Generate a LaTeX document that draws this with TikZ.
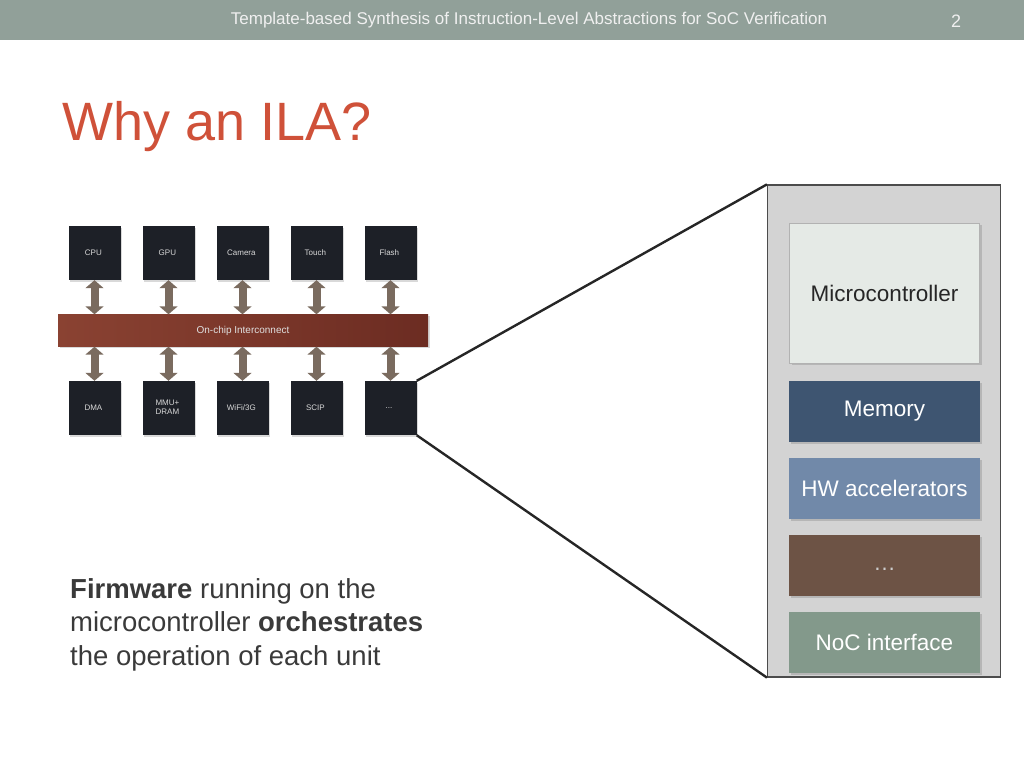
\documentclass[tikz,border=0pt]{standalone}
\usepackage{fontspec}
\setmainfont{Liberation Sans}
\usepackage{tikz}
\usepackage{xcolor}
\usetikzlibrary{matrix,shadows,arrows.meta}

\definecolor{headgray}{HTML}{91A099}
\definecolor{titlered}{HTML}{CF5139}
\definecolor{chipdark}{HTML}{1D2027}
\definecolor{busleft}{HTML}{8A4232}
\definecolor{busright}{HTML}{6C2C22}
\definecolor{arrowbrown}{HTML}{7A6B5F}
\definecolor{panelgray}{HTML}{D3D3D3}
\definecolor{mcgray}{HTML}{E5EAE6}
\definecolor{memblue}{HTML}{3E5571}
\definecolor{hwblue}{HTML}{7189A9}
\definecolor{dotbrown}{HTML}{6D5345}
\definecolor{nocgreen}{HTML}{83998B}
\definecolor{bodygray}{HTML}{3A3A3A}

\tikzset{
  chip/.style={fill=chipdark, text=white!85!black, minimum width=52pt, minimum height=54pt,
    inner sep=1pt, align=center, anchor=center, font=\fontsize{8}{9.5}\selectfont,
    drop shadow={opacity=0.3, shadow xshift=1.5pt, shadow yshift=-1.5pt}},
  busarrow/.style={arrowbrown, line width=8pt,
    {Triangle[width=18pt,length=8pt]}-{Triangle[width=18pt,length=8pt]}},
  unit/.style={minimum width=191pt, minimum height=61pt, inner sep=0pt, text=white,
    font=\fontsize{22.5}{26}\selectfont,
    drop shadow={opacity=0.35, shadow xshift=2pt, shadow yshift=-2pt}},
}

\begin{document}
\begin{tikzpicture}[x=1pt, y=-1pt]
  \useasboundingbox (0,0) rectangle (1024,768);

  % header band
  \fill[headgray] (0,0) rectangle (1024,40);
  \node[text=white!94!black, font=\fontsize{17}{19}\selectfont] (header) at (529,20)
    {Template-based Synthesis of Instruction-Level Abstractions for SoC Verification};
  \node[text=white!94!black, font=\fontsize{18}{20}\selectfont] (pagenum) at (956,21) {2};

  \node[anchor=base west, inner sep=0pt, text=titlered, font=\fontsize{54}{60}\selectfont]
    (title) at (62,140) {Why an ILA?};

  % chips
  \matrix[matrix of nodes,
          nodes={chip},
          column sep=22pt, row sep=101pt] (soc) at (242.5,330.5) {
    CPU & GPU & Camera & Touch & Flash \\
    DMA & \begin{tabular}{@{}c@{}}MMU+\\DRAM\end{tabular} & WiFi/3G & SCIP & ... \\
  };

  \node[minimum width=370pt, minimum height=32pt, left color=busleft, right color=busright,
        text=white!88!black, font=\fontsize{10}{12}\selectfont,
        drop shadow={opacity=0.3, shadow xshift=1.5pt, shadow yshift=-1.5pt}]
    (bus) at (243,330.5) {On-chip Interconnect};

  \foreach \j in {1,...,5} {
    \draw[busarrow] (soc-1-\j.south) -- (soc-1-\j.south |- bus.north);
    \draw[busarrow] (soc-2-\j.north |- bus.south) -- (soc-2-\j.north);
  }

  % zoomed unit
  \node[draw=black!70, line width=1.2pt, fill=panelgray, minimum width=233pt, minimum height=492pt]
    (panel) at (884,431) {};

  \draw[black!85, line width=2.4pt] (soc-2-5.north east) -- (panel.north west);
  \draw[black!85, line width=2.4pt] (soc-2-5.south east) -- (panel.south west);

  \node[unit, draw=black!30, fill=mcgray, minimum width=190pt, minimum height=140pt,
        text=black!85, drop shadow={opacity=0}] (mcu) at (884.5,293) {Microcontroller};
  \node[unit, fill=memblue] (mem) at (884.5,411) {Memory};
  \node[unit, fill=hwblue] (hw) at (884.5,488.5) {HW accelerators};
  \node[unit, fill=dotbrown, text=white!80!black] (more) at (884.5,565.5) {\vphantom{Ag}\dots};
  \node[unit, fill=nocgreen] (noc) at (884.5,642.5) {NoC interface};

  % caption
  \node[anchor=north west, inner sep=0pt, align=left, text=bodygray,
        font=\fontsize{27.5}{33.5}\selectfont] (note) at (70,578)
    {\textbf{Firmware} running on the\\
     microcontroller \textbf{orchestrates}\\
     the operation of each unit};
\end{tikzpicture}
\end{document}
